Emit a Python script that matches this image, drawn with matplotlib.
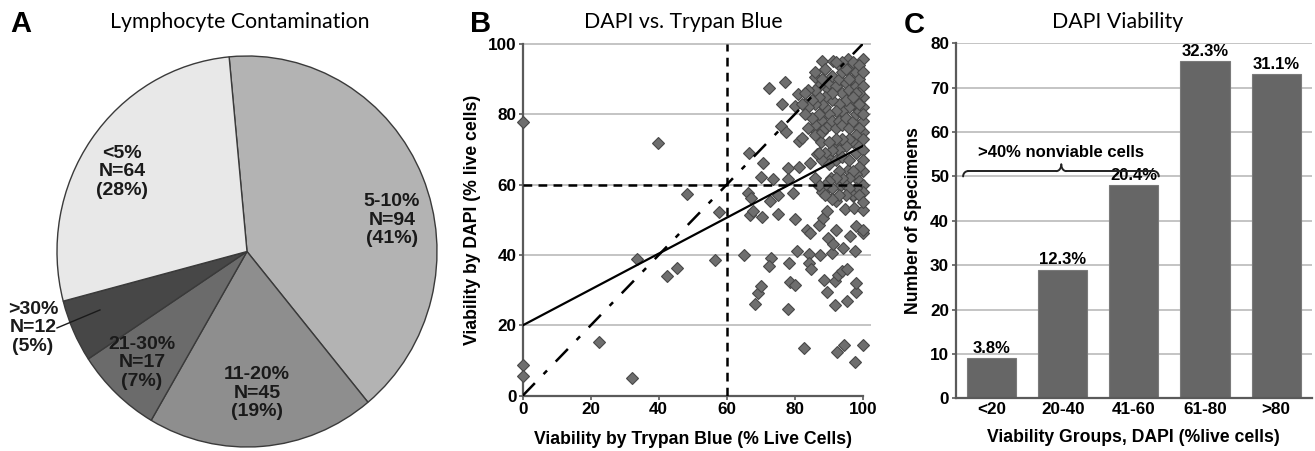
import numpy as np
import matplotlib
matplotlib.use("Agg")
import matplotlib.pyplot as plt

plt.rcParams['font.family'] = ['Liberation Sans', 'DejaVu Sans']

# ---- data ----
# panel A: lymphocyte contamination (clockwise from top)
pie_labels = ['5-10%', '11-20%', '21-30%', '>30%', '<5%']
pie_counts = [94, 45, 17, 12, 64]
pie_colors = ['#b3b3b3', '#8e8e8e', '#6b6b6b', '#474747', '#e8e8e8']

# panel B: DAPI vs trypan blue viability (% live cells)
trypan_x = [0, 0, 0, 39.9, 22.5, 32.1, 33.5, 42.4, 45.3, 48.2, 56.7, 57.8,
            65.1, 66.6, 66.3, 67.2, 66.9, 67.8, 68.2, 69.3, 70.0, 70.6, 70.3, 70.1,
            72.4, 72.7, 73.0, 72.3, 73.7, 75.2, 75.2, 75.9, 76.3, 77.1, 77.4, 77.9,
            78.1, 78.4, 77.9, 78.6, 79.6, 80.2, 80.1, 80.8, 81.2, 81.4, 81.1, 80.1,
            82.1, 82.7, 83.0, 83.5, 84.5, 84.3, 84.3, 84.7, 85.3, 84.5, 85.9, 86.5,
            87.3, 87.5, 87.7, 87.2, 87.1, 88.1, 88.4, 88.4, 88.6, 89.4, 89.4, 89.9,
            89.6, 89.9, 90.4, 90.6, 91.4, 91.1, 91.4, 91.9, 92.4, 91.9, 92.0, 92.2,
            92.8, 92.8, 93.3, 93.8, 94.3, 94.5, 94.8, 95.3, 95.3, 95.8, 95.8, 96.3,
            97.1, 97.3, 97.7, 97.7, 97.9, 98.0, 98.0, 100, 100, 100, 100, 100,
            86, 87, 88, 89, 90, 90, 91, 92, 93, 93, 94, 94, 95, 96, 96, 97, 97, 98,
            98, 99, 99, 100, 100, 100, 99, 98, 97, 96, 95, 94, 93, 92, 91, 90, 89,
            88, 87, 86, 85, 84, 86, 88, 89, 90, 91, 92, 93, 94, 95, 96, 97, 98, 99,
            100, 100, 100, 99, 98, 97, 96, 95, 94, 93, 92, 91, 90, 89, 88, 87, 90,
            92, 94, 96, 98, 99, 100, 100, 100, 99, 98, 97, 96, 95, 94, 93, 92, 91,
            90, 89, 88, 87, 86, 99, 100, 100, 98, 97, 96, 99, 100, 95, 93, 91, 89,
            100, 100, 99, 98, 97, 96, 95, 94, 92, 91, 89, 88, 87, 86, 85, 84, 83,
            82, 86, 84, 83]
dapi_y = [77.9, 8.6, 5.6, 71.8, 15.4, 5.1, 38.9, 34.1, 36.3, 57.3, 38.6, 52.3,
          40.1, 69.1, 57.7, 56.1, 51.5, 52.6, 26.2, 29.2, 31.3, 66.1, 50.8, 62.3,
          87.4, 55.3, 39.1, 36.8, 61.7, 51.7, 57.2, 76.7, 82.9, 89.1, 75.0, 64.8,
          61.5, 37.6, 24.6, 32.3, 57.7, 31.6, 50.1, 41.1, 72.4, 65.1, 85.9, 82.4,
          73.4, 13.5, 82.9, 47.0, 46.3, 40.4, 37.7, 36.0, 76.2, 66.3, 90.5, 68.6,
          39.9, 84.3, 72.0, 59.6, 48.5, 95.2, 79.6, 50.6, 33.0, 29.6, 59.1, 44.9,
          52.5, 87.2, 67.2, 62.0, 95.2, 40.6, 43.0, 25.9, 12.4, 32.5, 55.3, 47.2,
          71.0, 34.4, 59.6, 35.4, 42.0, 14.4, 53.1, 26.8, 36.1, 95.7, 64.2, 45.3,
          56.7, 53.4, 41.1, 9.7, 29.4, 32.0, 48.2, 14.4, 52.9, 46.3, 47.2, 95.7,
          92, 88, 90, 93, 89, 85, 91, 88, 94, 90, 86, 92, 89, 93, 87, 90, 95, 92,
          88, 94, 90, 92, 88, 85, 86, 84, 83, 82, 84, 81, 83, 81, 84, 80, 82,
          78, 80, 77, 79, 76, 74, 75, 76, 77, 78, 76, 78, 77, 79, 76, 78, 80, 81,
          82, 78, 75, 76, 74, 72, 73, 71, 73, 70, 73, 70, 72, 69, 67, 69, 66,
          67, 68, 67, 69, 71, 70, 67, 64, 65, 63, 64, 62, 60, 62, 64, 62, 59,
          61, 60, 58, 60, 62, 61, 60, 58, 59, 57, 59, 57, 55, 57, 57, 56, 57,
          73, 80, 83, 86, 85, 90, 93, 95, 95, 86, 85, 83, 85, 83, 84, 82, 80,
          83, 87, 87, 86]
fit_intercept = 20
fit_slope = 0.51
cutoff = 60

# panel C: DAPI viability groups
groups = ['<20', '20-40', '41-60', '61-80', '>80']
specimens = [9, 29, 48, 76, 73]
group_pct = ['3.8%', '12.3%', '20.4%', '32.3%', '31.1%']

W, H = 1315, 451
fig = plt.figure(figsize=(W / 100, H / 100), dpi=100)


def box(left, top, right, bottom):
    return [left / W, 1 - bottom / H, (right - left) / W, (bottom - top) / H]


title_font = dict(family='Lato', fontsize=15.3)
letter_font = dict(fontsize=21, fontweight='bold')
tick_size = 12.3
label_size = 12.7

# ---- A: pie ----
ax_a = fig.add_axes(box(57, 56, 437, 447))
ax_a.pie(pie_counts, colors=pie_colors, startangle=95.4, counterclock=False,
         wedgeprops=dict(edgecolor='#3a3a3a', linewidth=1.0))
ax_a.set_aspect('auto')
ax_a.set_xlim(-1.0, 1.0)
ax_a.set_ylim(-1.0, 1.0)
ax_a.set_axis_off()

total = sum(pie_counts)
label_pos = {'5-10%': (0.763, 0.161), '11-20%': (0.053, -0.724),
             '21-30%': (-0.553, -0.57), '>30%': (-1.126, -0.391),
             '<5%': (-0.658, 0.407)}
for lab, n in zip(pie_labels, pie_counts):
    x, y = label_pos[lab]
    ax_a.text(x, y, f"{lab}\nN={n}\n({round(100 * n / total)}%)",
              ha='center', va='center', fontsize=14, fontweight='bold',
              color='#1a1a1a', linespacing=1.1, clip_on=False)
ax_a.plot([-1.0, -0.774], [-0.391, -0.299], color='#1a1a1a', lw=1.0, clip_on=False)

fig.text(240 / W, 1 - 22 / H, 'Lymphocyte Contamination', ha='center', va='center',
         **title_font)
fig.text(10 / W, 1 - 24 / H, 'A', ha='left', va='center', **letter_font)

# ---- B: scatter ----
ax_b = fig.add_axes(box(522.7, 44, 862.7, 395.7))
ax_b.set_xlim(0, 100)
ax_b.set_ylim(0, 100)
for yv in [20, 40, 60, 80, 100]:
    ax_b.axhline(yv, color='#c4c4c4', lw=1.4, zorder=0, xmax=1.02, clip_on=False)
ax_b.plot(trypan_x, dapi_y, 'D', ms=6.3, mfc='#6e6e6e', mec='#484848', mew=0.8,
          zorder=3, clip_on=False)
xs = np.array([0, 100])
ax_b.plot(xs, fit_intercept + fit_slope * xs, color='black', lw=1.6, zorder=4)
ax_b.plot(xs, xs, color='black', lw=1.8, ls=(0, (7, 5, 2, 5)), zorder=4)
ax_b.axvline(cutoff, color='black', lw=1.8, ls=(0, (3.5, 2.5)), zorder=4)
ax_b.axhline(cutoff, color='black', lw=1.8, ls=(0, (3.5, 2.5)), zorder=4)
ax_b.set_xticks([0, 20, 40, 60, 80, 100])
ax_b.set_yticks([0, 20, 40, 60, 80, 100])
for s in ['top', 'right']:
    ax_b.spines[s].set_visible(False)
for s in ['left', 'bottom']:
    ax_b.spines[s].set_color('#5a5a5a')
    ax_b.spines[s].set_linewidth(1.6)
ax_b.tick_params(length=3, width=1.2, color='#5a5a5a', labelsize=tick_size, pad=1.5)
for t in ax_b.get_xticklabels() + ax_b.get_yticklabels():
    t.set_fontweight('bold')
ax_b.set_xlabel('Viability by Trypan Blue (% Live Cells)', fontsize=label_size,
                fontweight='bold', labelpad=10)
ax_b.set_ylabel('Viability by DAPI (% live cells)', fontsize=label_size,
                fontweight='bold', labelpad=5)
fig.text(683 / W, 1 - 22 / H, 'DAPI vs. Trypan Blue', ha='center', va='center',
         **title_font)
fig.text(470 / W, 1 - 24 / H, 'B', ha='left', va='center', **letter_font)

# ---- C: bars ----
ax_c = fig.add_axes(box(956, 43.3, 1311.7, 398.3))
pos = np.arange(len(groups))
ax_c.set_xlim(-0.5, len(groups) - 0.5)
ax_c.set_ylim(0, 80)
for yv in range(10, 90, 10):
    ax_c.axhline(yv, color='#c4c4c4', lw=1.4, zorder=0)
bars = ax_c.bar(pos, specimens, width=0.69, color='#666666', edgecolor='#7a7a7a',
                linewidth=0.8, zorder=2)
for b, p in zip(bars, group_pct):
    ax_c.text(b.get_x() + b.get_width() / 2, b.get_height() + 0.5, p,
              ha='center', va='bottom', fontsize=12, fontweight='bold')
ax_c.set_xticks(pos)
ax_c.set_xticklabels(groups)
ax_c.set_yticks(range(0, 90, 10))
for s in ['top', 'right']:
    ax_c.spines[s].set_visible(False)
for s in ['left', 'bottom']:
    ax_c.spines[s].set_color('#5a5a5a')
    ax_c.spines[s].set_linewidth(1.6)
ax_c.tick_params(axis='y', length=3, width=1.2, color='#5a5a5a', labelsize=tick_size, pad=2)
ax_c.tick_params(axis='x', length=0, labelsize=tick_size, pad=3)
for t in ax_c.get_xticklabels() + ax_c.get_yticklabels():
    t.set_fontweight('bold')
ax_c.set_xlabel('Viability Groups, DAPI (%live cells)', fontsize=label_size,
                fontweight='bold', labelpad=8)
ax_c.set_ylabel('Number of Specimens', fontsize=label_size, fontweight='bold', labelpad=6)

# curly brace over the first three groups
x0, x1, yb = -0.40, 2.35, 51.2
xm = 0.98
cw = 0.07
q = np.linspace(0, np.pi / 2, 40)
brace_segments = [
    (x0 + cw * (1 - np.cos(q)), yb - 1.2 + 1.2 * np.sin(q)),
    (np.linspace(x0 + cw, xm - cw, 40), np.full(40, yb)),
    (xm - cw + cw * np.sin(q), yb + 1.5 * (1 - np.cos(q))),
    (xm + cw - cw * np.sin(q), yb + 1.5 * (1 - np.cos(q))),
    (np.linspace(xm + cw, x1 - cw, 40), np.full(40, yb)),
    (x1 - cw + cw * np.sin(q), yb - 1.2 * (1 - np.cos(q))),
]
for bx, by in brace_segments:
    ax_c.plot(bx, by, color='#222222', lw=1.4, zorder=3, solid_capstyle='round')
ax_c.text(xm, 55.3, '>40% nonviable cells', ha='center', va='center',
          fontsize=12, fontweight='bold')

fig.text(1118 / W, 1 - 22 / H, 'DAPI Viability', ha='center', va='center',
         **title_font)
fig.text(904 / W, 1 - 25 / H, 'C', ha='left', va='center', **letter_font)

fig.savefig('out.png', dpi=100)
